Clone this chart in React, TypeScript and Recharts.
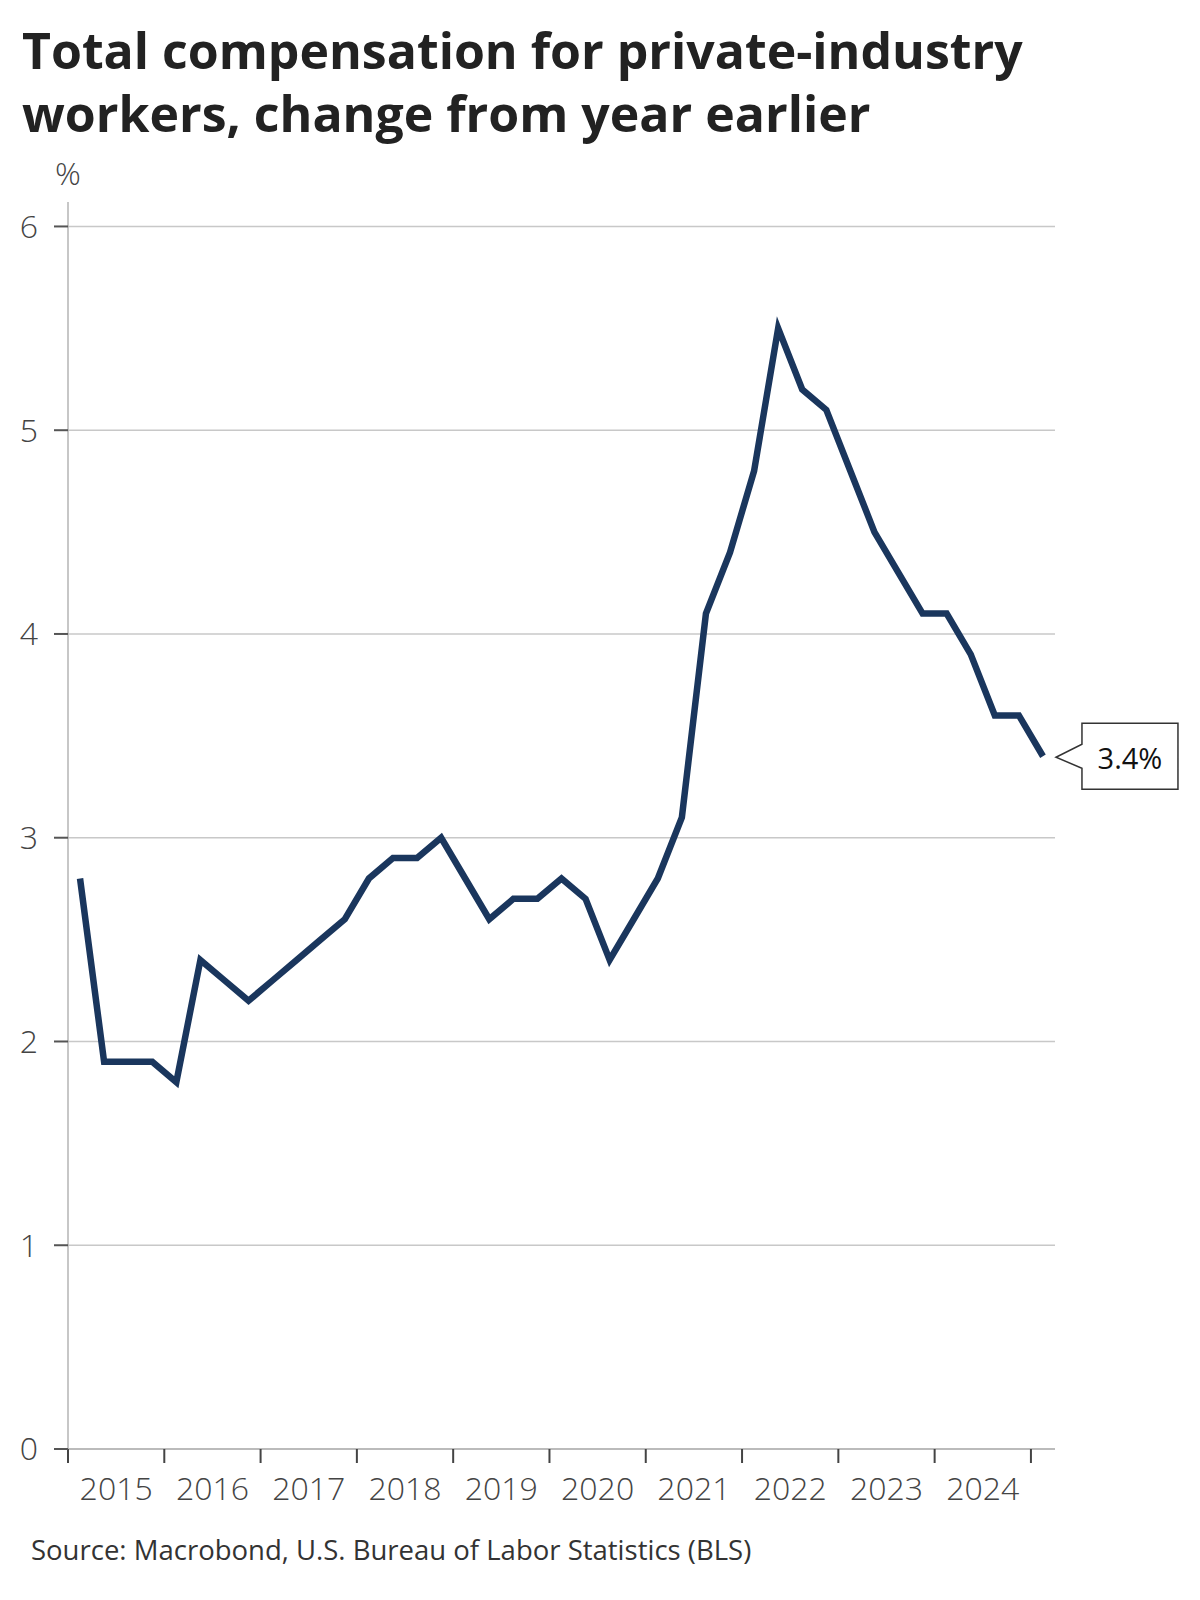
import { LineChart, Line, XAxis, YAxis, ReferenceLine } from 'recharts';

// ECI total compensation, private industry, 12-month % change (quarterly)
const PERIODS = [
  '2015-Q1', '2015-Q2', '2015-Q3', '2015-Q4',
  '2016-Q1', '2016-Q2', '2016-Q3', '2016-Q4',
  '2017-Q1', '2017-Q2', '2017-Q3', '2017-Q4',
  '2018-Q1', '2018-Q2', '2018-Q3', '2018-Q4',
  '2019-Q1', '2019-Q2', '2019-Q3', '2019-Q4',
  '2020-Q1', '2020-Q2', '2020-Q3', '2020-Q4',
  '2021-Q1', '2021-Q2', '2021-Q3', '2021-Q4',
  '2022-Q1', '2022-Q2', '2022-Q3', '2022-Q4',
  '2023-Q1', '2023-Q2', '2023-Q3', '2023-Q4',
  '2024-Q1', '2024-Q2', '2024-Q3', '2024-Q4',
  '2025-Q1',
];

const VALUES = [
  2.8, 1.9, 1.9, 1.9,
  1.8, 2.4, 2.3, 2.2,
  2.3, 2.4, 2.5, 2.6,
  2.8, 2.9, 2.9, 3.0,
  2.8, 2.6, 2.7, 2.7,
  2.8, 2.7, 2.4, 2.6,
  2.8, 3.1, 4.1, 4.4,
  4.8, 5.5, 5.2, 5.1,
  4.8, 4.5, 4.3, 4.1,
  4.1, 3.9, 3.6, 3.6,
  3.4,
];

const YEAR_TICKS = [2015, 2016, 2017, 2018, 2019, 2020, 2021, 2022, 2023, 2024, 2025];
const Y_TICKS = [0, 1, 2, 3, 4, 5, 6];

const TITLE = 'Total compensation for private-industry';
const TITLE_2 = 'workers, change from year earlier';
const SOURCE = 'Source: Macrobond, U.S. Bureau of Labor Statistics (BLS)';

// quarter midpoints on a continuous year scale
const data = PERIODS.map((p, i) => {
  const [yr, q] = p.split('-Q');
  return { t: Number(yr) + (Number(q) - 0.5) / 4, value: VALUES[i] };
});

const FONT = '"Open Sans", "Noto Sans", sans-serif';
const NAVY = '#1a365d';

const X_DOMAIN: [number, number] = [2015, 2025.25];
const PLOT_LEFT = 68;
const PLOT_RIGHT = 1055;
const HALF_YEAR = (PLOT_RIGHT - PLOT_LEFT) / (X_DOMAIN[1] - X_DOMAIN[0]) / 2;

function YearTick(props: any) {
  const { x, y, payload } = props;
  if (payload.value === YEAR_TICKS[YEAR_TICKS.length - 1]) return <g />;
  return (
    <text
      x={x + HALF_YEAR}
      y={y}
      dy="0.71em"
      textAnchor="middle"
      fill="#444"
      fontSize={32}
      fontWeight={300}
      fontFamily={FONT}
    >
      {payload.value}
    </text>
  );
}

function Callout(props: any) {
  const { x, y, value, index } = props;
  if (index !== VALUES.length - 1) return null;
  const tip = x + 13;
  const left = x + 39;
  const right = x + 135;
  const top = y - 33;
  const bottom = y + 33;
  const d = `M${left},${top} L${right},${top} L${right},${bottom} L${left},${bottom} L${left},${y + 12} L${tip},${y + 1} L${left},${y - 12} Z`;
  return (
    <g>
      <path d={d} fill="#fff" stroke="#333" strokeWidth={1.5} />
      <text
        x={(left + right) / 2}
        y={y + 1}
        dominantBaseline="central"
        textAnchor="middle"
        fill="#111"
        fontSize={29}
        fontFamily={FONT}
      >
        {`${Number(value).toFixed(1)}%`}
      </text>
    </g>
  );
}

export default function App() {
  return (
    <div
      style={{
        position: 'absolute',
        left: 0,
        top: 0,
        width: 1200,
        height: 1600,
        background: '#fff',
        fontFamily: FONT,
      }}
    >
      <div
        style={{
          position: 'absolute',
          left: 22,
          top: 19,
          fontSize: 50,
          fontWeight: 700,
          lineHeight: '63px',
          color: '#222',
          whiteSpace: 'nowrap',
        }}
      >
        {TITLE}
        <br />
        {TITLE_2}
      </div>
      <div
        style={{
          position: 'absolute',
          left: 48,
          width: 40,
          top: 157,
          textAlign: 'center',
          fontSize: 32,
          fontWeight: 300,
          lineHeight: '32px',
          color: '#444',
        }}
      >
        %
      </div>
      <div style={{ position: 'absolute', left: 0, top: 0 }}>
        <LineChart
          width={1200}
          height={1509}
          data={data}
          margin={{ top: 202, right: 1200 - PLOT_RIGHT, bottom: 0, left: 8 }}
        >
          {Y_TICKS.map((v) => (
            <ReferenceLine key={v} y={v} stroke="#c8c8c8" strokeWidth={1.5} />
          ))}
          <XAxis
            dataKey="t"
            type="number"
            domain={X_DOMAIN}
            ticks={YEAR_TICKS}
            interval={0}
            height={60}
            tickSize={14}
            tickMargin={14}
            axisLine={{ stroke: '#bbb', strokeWidth: 2 }}
            tickLine={{ stroke: '#444', strokeWidth: 2 }}
            tick={<YearTick />}
          />
          <YAxis
            type="number"
            domain={[0, 6.12]}
            ticks={Y_TICKS}
            interval={0}
            width={60}
            tickSize={14}
            tickMargin={16}
            allowDataOverflow
            axisLine={{ stroke: '#b5b5b5', strokeWidth: 1.5 }}
            tickLine={{ stroke: '#555', strokeWidth: 2 }}
            tick={{ fill: '#444', fontSize: 32, fontWeight: 300, fontFamily: FONT }}
          />
          <Line
            type="linear"
            dataKey="value"
            stroke={NAVY}
            strokeWidth={6.5}
            dot={false}
            isAnimationActive={false}
            label={<Callout />}
          />
        </LineChart>
      </div>
      <div
        style={{
          position: 'absolute',
          left: 31,
          top: 1536,
          fontSize: 27.5,
          lineHeight: '27px',
          color: '#333',
        }}
      >
        {SOURCE}
      </div>
    </div>
  );
}
